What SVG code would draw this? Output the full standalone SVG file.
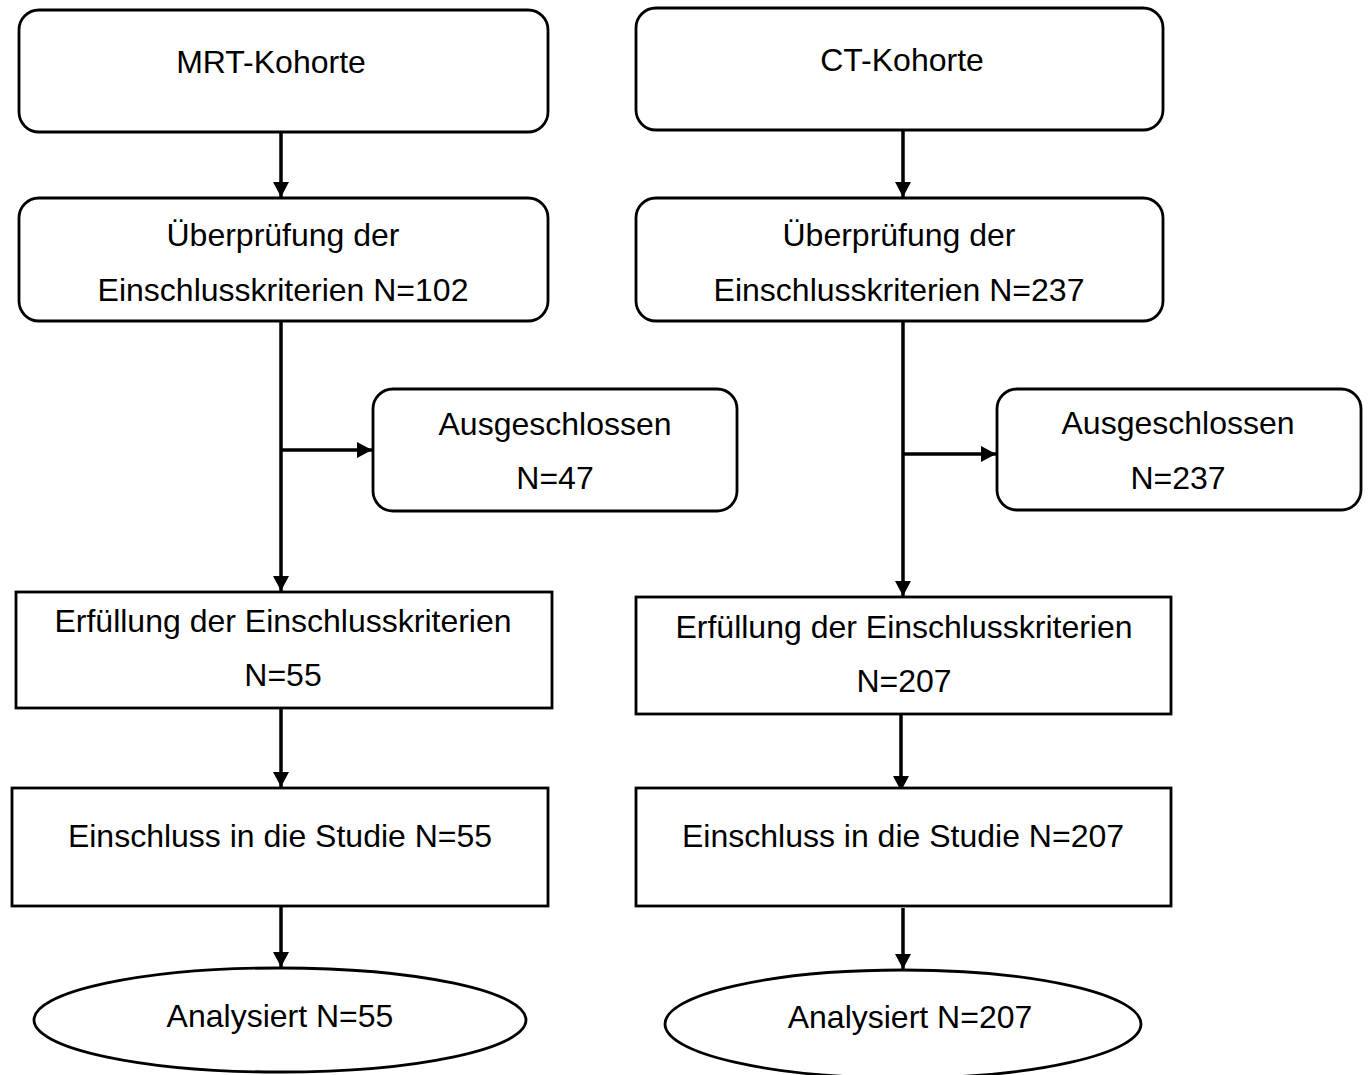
<svg xmlns="http://www.w3.org/2000/svg" width="1370" height="1075" viewBox="0 0 1370 1075">
<style>
.box{fill:#fff;stroke:#000;stroke-width:2.8}
.t{font-family:"Liberation Sans",Arial,sans-serif;font-size:32px;fill:#000;text-anchor:middle}
.c{stroke:#000;stroke-width:3.5;fill:none}
</style>
<defs>
<marker id="ah" viewBox="0 0 15 16" refX="15" refY="8" markerWidth="15" markerHeight="16" markerUnits="userSpaceOnUse" orient="auto">
<path d="M0,0 L15,8 L0,16 Z" fill="#000"/>
</marker>
</defs>
<rect width="1370" height="1075" fill="#fff"/>
<g id="connectors">
<line class="c" x1="281" y1="132" x2="281" y2="197" marker-end="url(#ah)"/>
<line class="c" x1="903" y1="130" x2="903" y2="197" marker-end="url(#ah)"/>
<line class="c" x1="281" y1="321" x2="281" y2="591" marker-end="url(#ah)"/>
<line class="c" x1="281" y1="450" x2="372" y2="450" marker-end="url(#ah)"/>
<line class="c" x1="903" y1="321" x2="903" y2="596" marker-end="url(#ah)"/>
<line class="c" x1="903" y1="454" x2="996" y2="454" marker-end="url(#ah)"/>
<line class="c" x1="281" y1="708" x2="281" y2="787" marker-end="url(#ah)"/>
<line class="c" x1="901" y1="714" x2="901" y2="791" marker-end="url(#ah)"/>
<line class="c" x1="281" y1="906" x2="281" y2="967" marker-end="url(#ah)"/>
<line class="c" x1="903" y1="908" x2="903" y2="969" marker-end="url(#ah)"/>
</g>
<g id="mrt">
<rect class="box" x="19" y="10" width="529" height="122" rx="20"/>
<text class="t" x="271" y="73">MRT-Kohorte</text>
</g>
<g id="ct">
<rect class="box" x="636" y="8" width="527" height="122" rx="20"/>
<text class="t" x="902" y="71">CT-Kohorte</text>
</g>
<g id="check-mrt">
<rect class="box" x="19" y="198" width="529" height="123" rx="20"/>
<text class="t" x="283" y="246">Überprüfung der</text>
<text class="t" x="283" y="301">Einschlusskriterien N=102</text>
</g>
<g id="check-ct">
<rect class="box" x="636" y="198" width="527" height="123" rx="20"/>
<text class="t" x="899" y="246">Überprüfung der</text>
<text class="t" x="899" y="301">Einschlusskriterien N=237</text>
</g>
<g id="excl-mrt">
<rect class="box" x="373" y="389" width="364" height="122" rx="20"/>
<text class="t" x="555" y="435">Ausgeschlossen</text>
<text class="t" x="555" y="489">N=47</text>
</g>
<g id="excl-ct">
<rect class="box" x="997" y="389" width="364" height="121" rx="20"/>
<text class="t" x="1178" y="434">Ausgeschlossen</text>
<text class="t" x="1178" y="489">N=237</text>
</g>
<g id="meet-mrt">
<rect class="box" x="16" y="592" width="536" height="116"/>
<text class="t" x="283" y="632">Erfüllung der Einschlusskriterien</text>
<text class="t" x="283" y="686">N=55</text>
</g>
<g id="meet-ct">
<rect class="box" x="636" y="597" width="535" height="117"/>
<text class="t" x="904" y="638">Erfüllung der Einschlusskriterien</text>
<text class="t" x="904" y="692">N=207</text>
</g>
<g id="incl-mrt">
<rect class="box" x="12" y="788" width="536" height="118"/>
<text class="t" x="280" y="847">Einschluss in die Studie N=55</text>
</g>
<g id="incl-ct">
<rect class="box" x="636" y="788" width="535" height="118"/>
<text class="t" x="903" y="847">Einschluss in die Studie N=207</text>
</g>
<g id="anal-mrt">
<ellipse class="box" cx="280" cy="1020" rx="246" ry="52"/>
<text class="t" x="280" y="1027">Analysiert N=55</text>
</g>
<g id="anal-ct">
<ellipse class="box" cx="903" cy="1024" rx="238" ry="54"/>
<text class="t" x="910" y="1028">Analysiert N=207</text>
</g>
</svg>
